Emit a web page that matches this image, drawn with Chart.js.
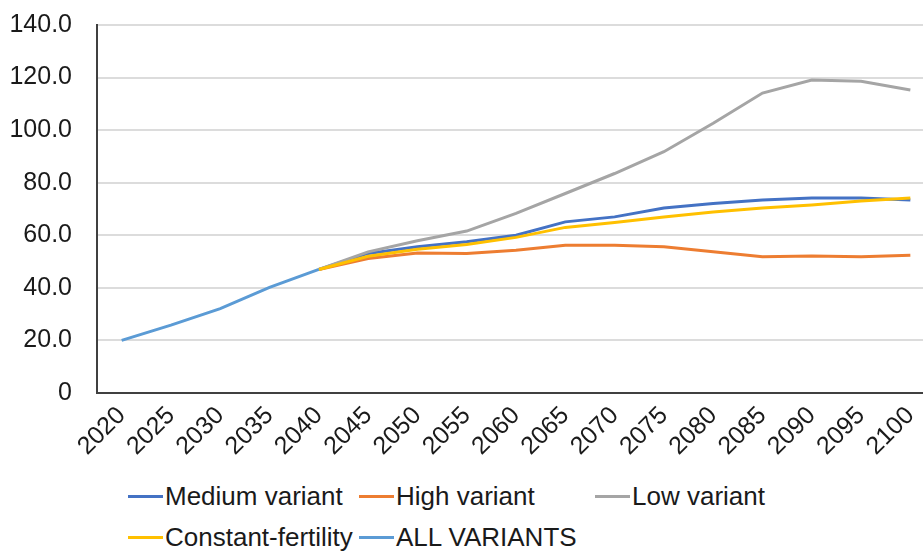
<!DOCTYPE html>
<html>
<head>
<meta charset="utf-8">
<script src="https://cdn.jsdelivr.net/npm/chart.js@4"></script>
<style>
  html, body { margin: 0; padding: 0; background: #fff; overflow: hidden; }
  #wrap { position: relative; width: 923px; height: 554px; overflow: hidden; }
  #box { position: absolute; left: 0; top: 0; width: 940px; height: 470px; }
  #legend {
    position: absolute; left: 128px; top: 476px;
    display: grid; grid-template-columns: 231px 236px auto; grid-auto-rows: 41px;
    font-family: "Liberation Sans", Arial, sans-serif; font-size: 26px; color: #1a1a1a;
  }
  #legend .item { display: flex; align-items: center; white-space: nowrap; }
  #legend .swatch { display: inline-block; width: 35px; height: 3px; margin-right: 2px; }
</style>
</head>
<body>
<div id="wrap">
  <div id="box"><canvas id="ratioChart" width="940" height="470"></canvas></div>
  <div id="legend"></div>
</div>
<script>
const years = ["2020", "2025", "2030", "2035", "2040", "2045", "2050", "2055", "2060",
  "2065", "2070", "2075", "2080", "2085", "2090", "2095", "2100"]

const mediumVariant = [null, null, null, null, 47.0, 53.1, 55.6, 57.5, 60.0,
  65.1, 67.0, 70.4, 72.1, 73.4, 74.2, 74.2, 73.4]
const highVariant = [null, null, null, null, 47.0, 51.2, 53.3, 53.1, 54.3,
  56.2, 56.2, 55.6, 53.7, 51.8, 52.1, 51.8, 52.4]
const lowVariant = [null, null, null, null, 47.0, 53.7, 57.9, 61.6, 68.3,
  75.9, 83.5, 91.8, 102.6, 114.1, 119.1, 118.6, 115.3]
const constantFertility = [null, null, null, null, 47.0, 52.0, 54.7, 56.5, 59.2,
  63.0, 64.9, 67.0, 68.9, 70.4, 71.5, 73.0, 74.2]
const allVariants = [20.0, 25.8, 32.1, 40.2, 47.0, null, null, null, null,
  null, null, null, null, null, null, null, null]

const yTicks = [0, 20, 40, 60, 80, 100, 120, 140]

const font = { family: "'Liberation Sans', Arial, sans-serif", size: 25 }

function series(label, values, color, order) {
  return {
    label: label,
    data: values,
    borderColor: color,
    backgroundColor: color,
    borderWidth: 3,
    pointRadius: 0,
    tension: 0,
    spanGaps: false,
    order: order,
  }
}

function createRatioChart() {
  const data = {
    labels: years,
    datasets: [
      series("Medium variant", mediumVariant, "#4472C4", 5),
      series("High variant", highVariant, "#ED7D31", 4),
      series("Low variant", lowVariant, "#A5A5A5", 3),
      series("Constant-fertility", constantFertility, "#FFC000", 2),
      series("ALL VARIANTS", allVariants, "#5B9BD5", 1),
    ],
  }

  const config = {
    type: "line",
    data: data,
    options: {
      responsive: false,
      animation: false,
      events: [],
      layout: { padding: { top: 25, right: 5, left: 0, bottom: 0 } },
      plugins: { legend: false, tooltip: false },
      scales: {
        x: {
          offset: true,
          grid: { display: false, drawTicks: false },
          border: { display: true, color: "#404040", width: 2 },
          ticks: {
            color: "#1a1a1a",
            font: font,
            minRotation: 45,
            maxRotation: 45,
            autoSkip: false,
            padding: 8,
          },
          afterFit: (scale) => { scale.height = 77 },
        },
        y: {
          min: 0,
          max: 140,
          afterBuildTicks: (scale) => {
            scale.ticks = yTicks.map((v) => ({ value: v }))
          },
          // invisible tick marks give the gap between labels and axis
          grid: { color: "#dcdcdc", lineWidth: 2, drawTicks: true, tickLength: 25, tickColor: "rgba(0,0,0,0)" },
          border: { display: true, color: "#404040", width: 2 },
          ticks: {
            color: "#1a1a1a",
            font: font,
            padding: 0,
            callback: (v) => (v === 0 ? "0" : v.toFixed(1)),
          },
          afterFit: (scale) => { scale.width = 97 },
        },
      },
    },
  }

  const ctx = document.getElementById("ratioChart")
  const chart = new Chart(ctx, config)

  // legend laid out in columns, built from the datasets
  const legend = document.getElementById("legend")
  chart.data.datasets.forEach((ds) => {
    const item = document.createElement("div")
    item.className = "item"
    const swatch = document.createElement("span")
    swatch.className = "swatch"
    swatch.style.background = ds.borderColor
    const text = document.createElement("span")
    text.textContent = ds.label
    item.appendChild(swatch)
    item.appendChild(text)
    legend.appendChild(item)
  })
}

document.addEventListener("DOMContentLoaded", () => {
  createRatioChart()
});
</script>
</body>
</html>
